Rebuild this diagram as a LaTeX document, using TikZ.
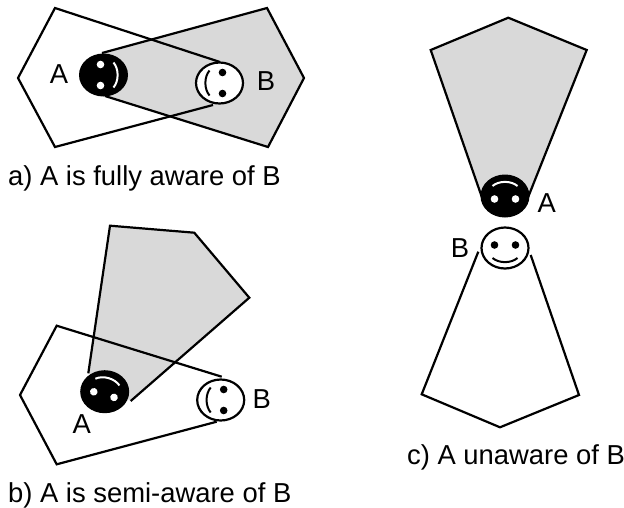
\documentclass[tikz,border=0pt]{standalone}
\usepackage{fontspec}
\setmainfont{Liberation Sans}
\usetikzlibrary{shapes.geometric}
\definecolor{shade}{HTML}{D9D9D9}

\begin{document}
\begin{tikzpicture}[x=1pt, y=-1pt, line width=2.2pt, line join=miter,
      every node/.style={font=\fontsize{27.4}{30}\selectfont, inner sep=0pt},
      region/.style={draw=black, fill=shade},
      outline/.style={draw=black},
      darkface/.style={shape=ellipse, fill=black, minimum width=49pt, minimum height=43pt},
      lightface/.style={shape=ellipse, draw=black, fill=white, minimum width=47pt, minimum height=41pt},
      marks/.pic={
        \fill (-10.5,-3) circle[radius=3.8];
        \fill (10.5,-3) circle[radius=3.8];
        \draw[line width=2pt] (-12.5,10) .. controls (-6,15.5) and (6,15.5) .. (12.5,10);
      }]
    \useasboundingbox (0,0) rectangle (624,507);
    % a) fully aware
    \path[region] (102,53) -- (267,8) -- (304,78) -- (268,147) -- (105,96);
    \path[outline] (220,62) -- (55,8) -- (18,78) -- (55,147) -- (213,105);
    \node[darkface] (faceAa) at (103.5,75) {};
    \node[lightface] (faceBa) at (219.5,83) {};
    \pic[rotate=90, color=white] at (faceAa) {marks};
    \pic[rotate=-90, color=black] at (faceBa) {marks};
    \node (labelAa) at (59,74) {A};
    \node (labelBa) at (266,81) {B};
    \node[anchor=west] (capa) at (7,178) {a) A is fully aware of B};
    % b) semi-aware
    \path[region] (88.3,373.3) -- (110,225.7) -- (194.3,232.7) -- (249.3,297.7) -- (130.7,401);
    \path[outline] (221.7,376.7) -- (56.7,325.7) -- (20,395) -- (56.7,464.3) -- (216.7,421.7);
    \node[darkface] (faceAb) at (104.7,391.7) {};
    \node[lightface] (faceBb) at (220.7,400) {};
    \pic[rotate=164.5, color=white] at (faceAb) {marks};
    \pic[rotate=-90, color=black] at (faceBb) {marks};
    \node (labelAb) at (81.7,424) {A};
    \node (labelBb) at (261.7,399) {B};
    \node[anchor=west] (capb) at (7,495) {b) A is semi-aware of B};
    % c) unaware
    \path[region] (481.7,196.7) -- (430.7,50) -- (508.3,17.7) -- (586.7,50) -- (528.3,196.7);
    \path[outline] (478.3,251.7) -- (421.7,394.3) -- (500,427.3) -- (579,395) -- (530.7,255);
    \node[darkface] (faceAc) at (505,196) {};
    \node[lightface] (faceBc) at (505,248) {};
    \pic[rotate=180, color=white] at (faceAc) {marks};
    \pic[color=black] at (faceBc) {marks};
    \node (labelAc) at (546.7,202.7) {A};
    \node (labelBc) at (460,248.3) {B};
    \node[anchor=west] (capc) at (406,457) {c) A unaware of B};
  \end{tikzpicture}
\end{document}
